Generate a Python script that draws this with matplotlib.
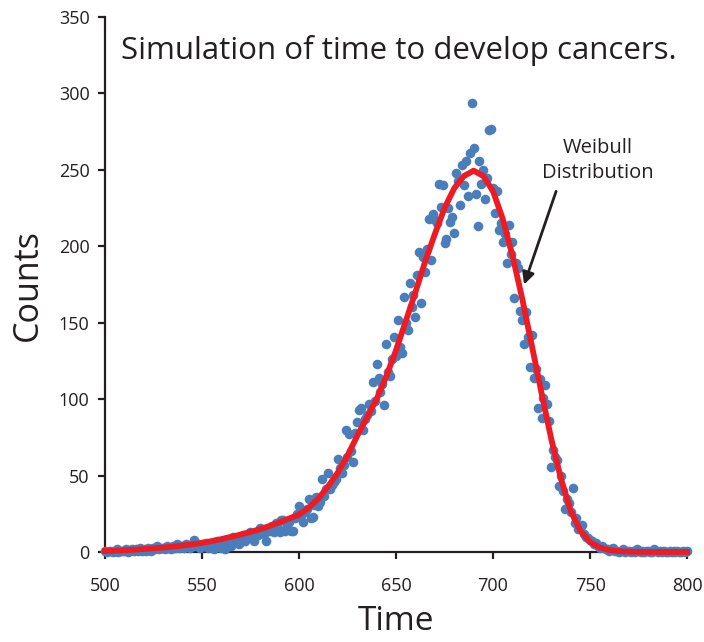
import numpy as np
import matplotlib.pyplot as plt

# observed counts, one point per time step 500..800
time = np.arange(500, 801)
counts = [
    1, 0, 1, 1, 0, 1, 2, 0, 1, 1,
    1, 2, 0, 1, 2, 1, 2, 1, 3, 1,
    2, 1, 3, 2, 1, 3, 2, 4, 2, 3,
    3, 2, 4, 3, 2, 4, 3, 5, 3, 4,
    4, 3, 5, 4, 3, 5, 8, 4, 5, 3,
    5, 4, 6, 3, 5, 6, 2, 5, 7, 4,
    3, 6, 2, 7, 5, 4, 10, 6, 9, 5,
    8, 11, 7, 10, 12, 13, 9, 7, 13, 11,
    16, 15, 12, 7, 14, 14, 17, 13, 19, 16,
    13, 21, 21, 14, 18, 20, 14, 14, 22, 25,
    30, 24, 20, 26, 28, 35, 22, 23, 31, 36,
    30, 33, 48, 37, 41, 52, 41, 44, 46, 48,
    61, 55, 52, 57, 80, 62, 77, 66, 59, 78,
    85, 93, 94, 80, 87, 90, 97, 92, 111, 99,
    123, 114, 105, 110, 96, 136, 118, 115, 126, 141,
    128, 152, 134, 130, 167, 150, 145, 176, 160, 168,
    154, 181, 196, 163, 193, 183, 198, 218, 191, 221,
    217, 215, 241, 226, 240, 202, 205, 225, 216, 219,
    209, 248, 243, 227, 253, 240, 256, 233, 261, 294,
    264, 234, 213, 256, 241, 250, 231, 245, 276, 277,
    238, 222, 236, 211, 215, 203, 208, 189, 214, 195,
    203, 166, 189, 186, 158, 152, 136, 157, 141, 121,
    142, 114, 120, 94, 113, 88, 101, 109, 97, 86,
    56, 67, 62, 60, 43, 50, 40, 28, 35, 32,
    26, 42, 19, 22, 15, 16, 18, 12, 10, 9,
    8, 7, 5, 6, 4, 3, 4, 3, 2, 2,
    1, 2, 3, 1, 1, 0, 1, 2, 0, 1,
    1, 0, 1, 0, 2, 1, 0, 1, 0, 1,
    1, 0, 0, 2, 1, 0, 1, 0, 1, 0,
    0, 1, 0, 1, 0, 1, 0, 0, 1, 0,
    1,
]

# fitted Weibull curve, read every 5 time units
fit_time = np.arange(500, 801, 5)
fit_counts = [
    0.7, 0.9, 1.2, 1.6, 2.0, 2.5, 3.0, 3.6, 4.3, 5.1,
    6.0, 7.2, 8.5, 10.0, 11.5, 13.2, 15.0, 17.2, 19.5, 22.0,
    24.5, 29, 35, 43, 52, 63, 76, 88, 100, 115,
    132, 151, 170, 190, 208, 225, 238, 246, 249.5, 246,
    236, 218, 194, 166, 135, 104, 74, 48, 27, 14,
    6.5, 3.0, 1.3, 0.6, 0.3, 0.2, 0.1, 0.1, 0.1, 0.1,
    0.1,
]

plt.rcParams['font.family'] = ['Open Sans', 'DejaVu Sans']
txt = '#231f20'

fig = plt.figure(figsize=(7.04, 6.42), dpi=100)
ax = fig.add_axes([0.149, 0.140, 0.827, 0.8335])

ax.scatter(time, counts, s=48, color='#4a7ebb', zorder=3, clip_on=False, linewidths=0)
ax.plot(fit_time, fit_counts, color='#ed1c24', lw=4.2, zorder=4, clip_on=False)

ax.set_xlim(500, 800)
ax.set_ylim(0, 350)
ax.set_xticks(np.arange(500, 801, 50))
ax.set_yticks(np.arange(0, 351, 50))
for s in ['top', 'right']:
    ax.spines[s].set_visible(False)
for s in ['left', 'bottom']:
    ax.spines[s].set_linewidth(1.6)
    ax.spines[s].set_color(txt)
ax.tick_params(direction='out', length=5, width=1.6, colors=txt, labelsize=13)
ax.tick_params(axis='x', pad=13)
ax.tick_params(axis='y', pad=6)

ax.set_xlabel('Time', fontsize=24, color=txt, labelpad=7)
ax.set_ylabel('Counts', fontsize=24.5, color=txt, labelpad=10)

ax.text(651.5, 328, 'Simulation of time to develop cancers.', fontsize=22.5,
        color=txt, ha='center', va='center')
ax.text(754, 256, 'Weibull\nDistribution', fontsize=14.5, color=txt,
        ha='center', va='center', linespacing=1.35)
ax.annotate('', xy=(716, 175), xytext=(732.5, 236),
            arrowprops=dict(arrowstyle='-|>', color='#231f20', lw=2,
                            mutation_scale=18, shrinkA=0, shrinkB=0))

fig.savefig('out.png', dpi=100)
